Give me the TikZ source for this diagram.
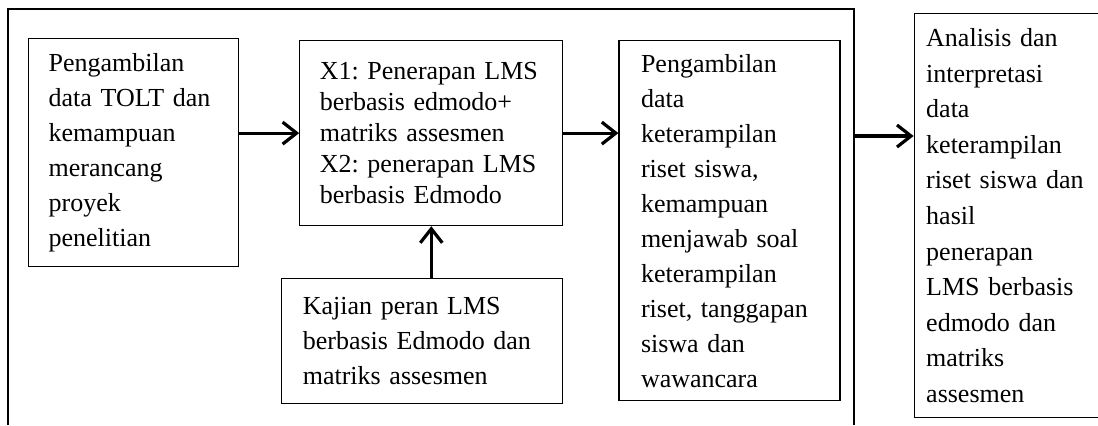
\documentclass[tikz,border=0pt]{standalone}
\usepackage{fontspec}
\setmainfont{Liberation Serif}
\usepackage{tikz}
\usetikzlibrary{arrows.meta, positioning, calc}
\frenchspacing

\begin{document}
\begin{tikzpicture}[
		x=1pt, y=1pt,
		% --- Gaya ---
		kotak/.style={
			draw,
			rectangle,
			line width=0.6pt,
			align=left,
			inner ysep=4pt,
			font=\fontsize{13}{17.5}\selectfont\frenchspacing
		},
		panah_utama/.style={
			-{Straight Barb[length=7pt, width=11pt]},
			line width=1.6pt
		}
		]
		\useasboundingbox (0,0) rectangle (549,-212.5);
		
		% 1. Bingkai luar (terbuka di bawah)
		\draw[line width=0.6pt] (4,-212.5) |- (427,-4.5) -- (427,-212.5);
		\coordinate (tepi) at (427,-68);
		
		% 2. Kotak-kotak tahapan
		\node[kotak, inner xsep=10pt, text width=85pt, minimum height=114pt, anchor=north west] (ambil) at (14,-19)
		{Pengambilan\\data TOLT dan\\kemampuan\\merancang\\proyek\\penelitian};
		\node[kotak, font=\fontsize{13}{15.5}\selectfont\frenchspacing, inner xsep=10pt, text width=111.5pt, minimum height=92.5pt,
			right=30pt of ambil.north east, anchor=north west, yshift=-1pt] (terap)
		{X1: Penerapan LMS\\berbasis edmodo+\\matriks assesmen\\X2: penerapan LMS\\berbasis Edmodo};
		\node[kotak, inner xsep=10.5pt, text width=119.5pt, minimum height=62.5pt,
			below=26pt of terap.south east, anchor=north east] (kajian)
		{Kajian peran LMS\\berbasis Edmodo dan\\matriks assesmen};
		\node[kotak, inner xsep=11pt, text width=88.5pt, minimum height=180pt,
			right=27.5pt of terap.north east, anchor=north west] (data)
		{Pengambilan\\data\\keterampilan\\riset siswa,\\kemampuan\\menjawab soal\\keterampilan\\riset, tanggapan\\siswa dan\\wawancara};
		\node[kotak, font=\fontsize{13}{17.8}\selectfont\frenchspacing, inner xsep=6pt, text width=81.5pt, minimum height=202pt,
			right=36.5pt of data.north east, anchor=north west, yshift=13.5pt] (analisis)
		{Analisis dan\\interpretasi\\data\\keterampilan\\riset siswa dan\\hasil\\penerapan\\LMS berbasis\\edmodo dan\\matriks\\assesmen};
		
		% 3. Panah antar tahapan
		\draw[panah_utama] (ambil.east |- terap.west) -- (terap.west);
		\draw[panah_utama] (terap.south |- kajian.north) -- (terap.south);
		\draw[panah_utama] (terap.east) -- (terap.east -| data.west);
		\draw[panah_utama] (tepi) -- (tepi -| analisis.west);
		
	\end{tikzpicture}
\end{document}
